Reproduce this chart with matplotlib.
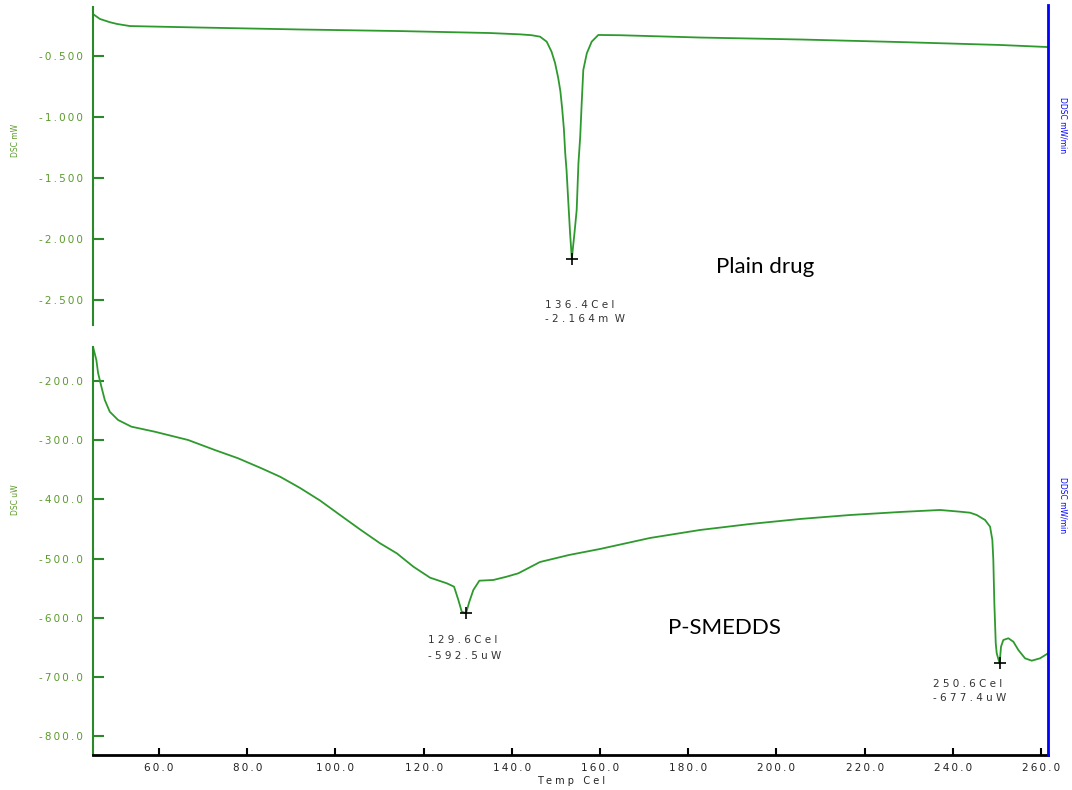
import matplotlib.pyplot as plt
from matplotlib.lines import Line2D
from matplotlib.ticker import FuncFormatter

# Plain drug trace (top panel)
temp_top = [45.0, 46.6, 48.9, 50.5, 53.4, 69.3, 92.0, 114.6, 135.0, 141.9,
            144.5, 146.4, 147.9, 149.0, 149.8, 150.5, 151.0, 151.4, 151.8, 152.1,
            152.4, 152.8, 153.2, 153.6, 154.2, 154.7, 155.1, 155.5, 155.8, 156.2,
            157.0, 158.1, 159.6, 164.5, 182.7, 205.4, 228.0, 250.7, 261.6]
dsc_top = [-0.158, -0.199, -0.226, -0.240, -0.257, -0.269, -0.285, -0.298, -0.314, -0.325,
           -0.332, -0.344, -0.385, -0.467, -0.560, -0.680, -0.790, -0.930, -1.100, -1.298,
           -1.437, -1.697, -1.953, -2.164, -1.953, -1.765, -1.380, -1.164, -0.918, -0.617,
           -0.480, -0.385, -0.330, -0.332, -0.351, -0.367, -0.388, -0.412, -0.429]

# P-SMEDDS trace (bottom panel)
temp_bot = [45.03, 45.78, 46.17, 46.92, 47.69, 48.82, 50.70, 53.72, 59.02, 66.58,
            72.63, 77.91, 83.20, 87.5, 91.97, 96.5, 101.04, 105.6, 110.11, 113.90,
            117.66, 121.45, 125.24, 126.89, 127.87, 128.64, 129.6, 130.36, 131.27, 132.63,
            135.80, 138.84, 141.47, 146.39, 153.0, 160.0, 171.34, 182.68, 194.01, 205.35,
            216.69, 228.03, 237.10, 241.63, 243.90, 245.42, 247.30, 248.44, 248.96, 249.18,
            249.41, 249.73, 249.95, 250.6, 250.93, 251.45, 252.59, 253.72, 254.85, 256.37,
            257.89, 259.77, 261.6]
dsc_bot = [-142.5, -164.5, -186.5, -209.6, -232.1, -251.9, -265.9, -277.2, -285.7, -299.7,
           -316.6, -330.6, -347.5, -362.0, -380.8, -402.0, -426.5, -451.0, -474.3, -491.2,
           -513.8, -532.4, -541.9, -547.6, -570.1, -589.9, -592.5, -573.0, -553.2, -537.5,
           -536.3, -530.7, -525.0, -505.9, -494.0, -483.9, -465.3, -451.8, -441.7, -433.2,
           -426.5, -421.4, -418.0, -420.9, -422.6, -426.5, -434.9, -446.2, -468.7, -502.5,
           -575.7, -643.3, -660.2, -677.4, -649.0, -637.7, -634.8, -640.6, -654.6, -668.7,
           -672.7, -668.7, -660.2]

x_ticks = [60, 80, 100, 120, 140, 160, 180, 200, 220, 240, 260]
top_ticks = [-0.5, -1.0, -1.5, -2.0, -2.5]
bot_ticks = [-200, -300, -400, -500, -600, -700, -800]

line_green = '#2e9a2e'
axis_green = '#2a8a2a'
label_green = '#5a9a2a'
note_color = '#333333'


def spaced(fmt):
    return FuncFormatter(lambda v, p: '\u2009'.join(fmt.format(v)))


def spread(s):
    return ' '.join(s)


fig = plt.figure(figsize=(10.72, 7.9), dpi=100)
ax_top = fig.add_axes([0.0868, 0.5886, 0.8909, 0.4025])
ax_bot = fig.add_axes([0.0868, 0.0443, 0.8909, 0.5165])

for ax in (ax_top, ax_bot):
    ax.set_xlim(45.03, 261.6)
    for s in ('top', 'right'):
        ax.spines[s].set_visible(False)
    ax.spines['left'].set_color(axis_green)
    ax.spines['left'].set_linewidth(1.5)
    ax.tick_params(axis='y', direction='in', length=8, width=1.5, color=axis_green,
                   labelcolor=label_green, labelsize=7.5, pad=7)

ax_top.plot(temp_top, dsc_top, color=line_green, lw=1.3)
ax_top.set_ylim(-2.707, -0.101)
ax_top.set_yticks(top_ticks)
ax_top.yaxis.set_major_formatter(spaced('{:.3f}'))
ax_top.spines['bottom'].set_visible(False)
ax_top.set_xticks([])
ax_top.plot([153.6], [-2.164], marker='+', color='black', ms=8, mew=1.2)
ax_top.text(147.5, -2.543, spread('136.4Cel'), fontsize=7.5, color=note_color, va='center')
ax_top.text(147.5, -2.658, spread('-2.164m') + '  W', fontsize=7.5, color=note_color, va='center')
ax_top.text(197.4, -2.232, 'Plain drug', fontsize=16, family='Lato', ha='center', va='center')

ax_bot.plot(temp_bot, dsc_bot, color=line_green, lw=1.3)
ax_bot.set_ylim(-832.1, -142.5)
ax_bot.set_yticks(bot_ticks)
ax_bot.yaxis.set_major_formatter(spaced('{:.1f}'))
ax_bot.spines['bottom'].set_color('black')
ax_bot.spines['bottom'].set_linewidth(2)
ax_bot.set_xticks(x_ticks)
ax_bot.xaxis.set_major_formatter(spaced('{:.1f}'))
ax_bot.tick_params(axis='x', direction='in', length=5, width=1.5, color='black',
                   labelcolor='#222222', labelsize=7.5, pad=6)
ax_bot.plot([129.6, 250.6], [-592.5, -677.4], ls='none', marker='+', color='black', ms=8, mew=1.2)
ax_bot.text(121.0, -637.7, spread('129.6Cel'), fontsize=7.5, color=note_color, va='center')
ax_bot.text(121.0, -664.8, spread('-592.5uW'), fontsize=7.5, color=note_color, va='center')
ax_bot.text(235.5, -712.1, spread('250.6Cel'), fontsize=7.5, color=note_color, va='center')
ax_bot.text(235.5, -735.7, spread('-677.4uW'), fontsize=7.5, color=note_color, va='center')
ax_bot.text(188.1, -617.4, 'P-SMEDDS', fontsize=16, family='Lato', ha='center', va='center')

# right-hand blue axis line and labels
fig.add_artist(Line2D([1048 / 1072, 1048 / 1072], [1 - 5 / 790, 1 - 755 / 790],
                      color='blue', lw=2, transform=fig.transFigure))
fig.text(1063 / 1072, 1 - 125 / 790, 'DDSC mW/min', rotation=270, color='blue',
         fontsize=5.5, ha='center', va='center')
fig.text(1063 / 1072, 1 - 505 / 790, 'DDSC mW/min', rotation=270, color='blue',
         fontsize=5.5, ha='center', va='center')
fig.text(15 / 1072, 1 - 140 / 790, 'DSC mW', rotation=90, color=label_green,
         fontsize=5.5, ha='center', va='center')
fig.text(15 / 1072, 1 - 500 / 790, 'DSC uW', rotation=90, color=label_green,
         fontsize=5.5, ha='center', va='center')
fig.text(571 / 1072, 1 - 781 / 790, spread('Temp') + '   ' + spread('Cel'), color='#222222',
         fontsize=7, ha='center', va='center')

fig.savefig('out.png', dpi=100)
